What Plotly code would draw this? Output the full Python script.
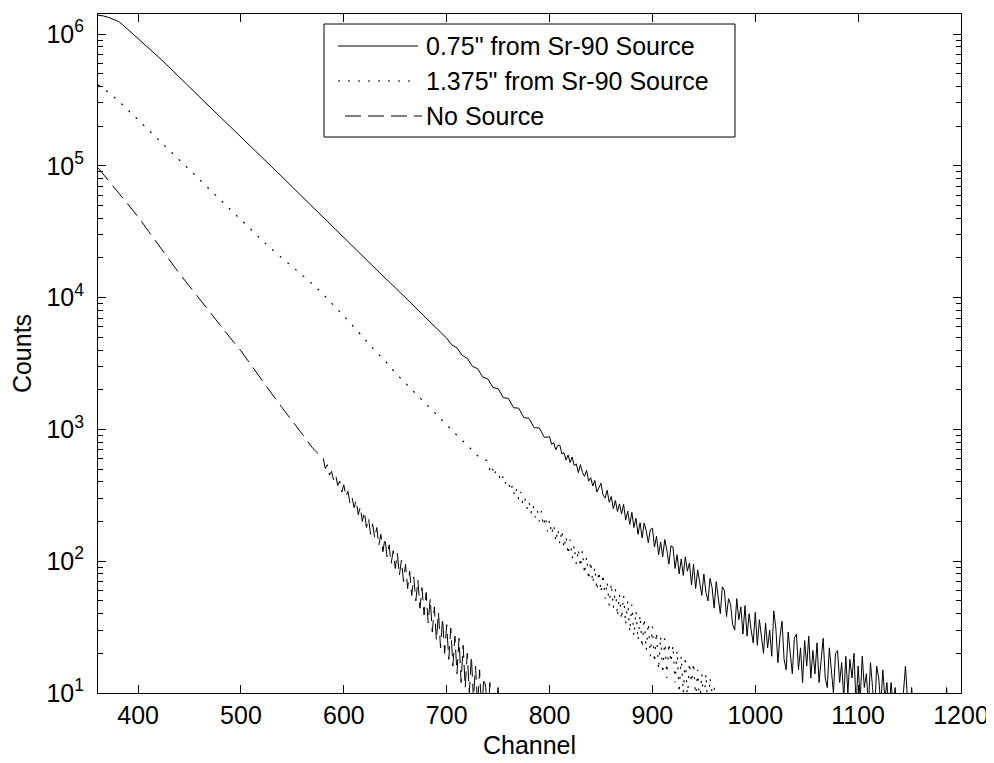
import plotly.graph_objects as go

# ---------------- data ----------------
# 0.75" from Sr-90 source (solid)
a_channels = ([361, 366, 371, 376, 381, 385, 390, 395] + list(range(400, 700, 10))
              + list(range(700, 800, 5)) + list(range(800, 1200, 2)))
a_counts = [
    1387000, 1374000, 1340000, 1290000, 1245000, 1175000, 1084000, 1007000,
    933000, 785000, 668000, 562000, 470000, 394000, 331000, 279000, 234000, 197000,
    166000, 140000, 117500, 98400, 82400, 69000, 57800, 48300, 40400, 33700,
    28200, 23700, 19900, 16700, 14100, 11900, 10000, 8410, 7080, 5890,
    4920, 4380, 4150, 3650, 3460, 3010, 2890, 2500, 2420, 2080,
    2040, 1740, 1720, 1460, 1450, 1230, 1215, 1030, 1025, 870,
    880, 770, 792, 700, 755, 760, 650, 668, 585, 640,
    560, 618, 530, 548, 470, 540, 470, 440, 489, 405,
    430, 372, 410, 335, 360, 390, 318, 301, 345, 280,
    310, 250, 289, 238, 272, 228, 270, 205, 240, 190,
    235, 180, 212, 160, 196, 150, 195, 170, 138, 174,
    178, 128, 155, 112, 140, 108, 146, 122, 95, 131,
    128, 88, 112, 80, 104, 78, 108, 84, 97, 66,
    95, 62, 86, 70, 55, 80, 58, 50, 74, 63,
    44, 70, 55, 40, 64, 60, 38, 52, 47, 33,
    30, 52, 36, 45, 28, 46, 27, 40, 30, 24,
    41, 23, 36, 28, 20, 34, 22, 30, 19, 42,
    31, 17, 27, 35, 18, 15, 29, 20, 14, 26,
    28, 15, 22, 12, 25, 16, 27, 13, 21, 14,
    24, 12, 19, 26, 13, 11, 22, 15, 10, 20,
    21, 12, 17, 9, 19, 10, 18, 13, 20, 8,
    16, 9, 19, 11, 14, 8, 17, 11, 7, 16,
    13, 8, 15, 9, 12, 7, 12, 8, 11, 6,
    9, 8, 10, 16, 9, 7, 11, 7, 6, 8,
    7, 6, 8, 5, 7, 6, 8, 5, 7, 6,
    7, 5, 6, 11, 6, 5, 6, 4, 7, 5,
]

# 1.375" from Sr-90 source (dotted)
b_channels = [361] + list(range(370, 740, 10)) + list(range(740, 982, 2))
b_counts = [
    412000, 367000, 316000, 266000, 224000, 188000, 158500, 131800, 110900,
    93300, 78200, 65600, 55000, 46200, 38900, 32700, 27500, 23300, 19950,
    17180, 14790, 12590, 10590, 8810, 7240, 5960, 4840, 3980, 3310,
    2690, 2240, 1862, 1549, 1288, 1072, 902, 759, 631,
    575, 490, 530, 445, 490, 470, 420, 455, 380, 405,
    412, 340, 378, 310, 352, 292, 335, 270, 300, 250,
    285, 232, 268, 215, 245, 200, 240, 185, 218, 168,
    205, 160, 190, 140, 175, 135, 172, 125, 155, 112,
    145, 105, 132, 95, 124, 90, 120, 80, 108, 72,
    100, 68, 90, 60, 84, 58, 80, 52, 70, 46,
    68, 44, 62, 38, 56, 36, 55, 33, 50, 29,
    47, 27, 42, 25, 39, 22, 37, 21, 34, 19,
    32, 17, 29, 15, 27, 14, 26, 13, 24, 17,
    23, 12, 21, 10, 19, 10, 19, 9, 17, 12,
    17, 9, 15, 8, 14, 8, 14, 7, 13, 10,
    11, 7, 6, 9, 5, 8, 6, 7, 5, 6,
    5,
]

# No source (dashed)
c_channels = [361] + list(range(370, 580, 10)) + list(range(580, 762, 2))
c_counts = [
    96600, 79400, 63800, 51300, 41100, 32000, 24800, 19500, 15300, 12160,
    9660, 7670, 6100, 4900, 3940, 3055, 2370, 1862, 1462, 1161, 912, 716,
    600, 505, 540, 450, 480, 415, 455, 375, 405, 335,
    380, 310, 340, 275, 305, 255, 290, 225, 258, 200,
    238, 180, 212, 160, 192, 150, 180, 132, 160, 118,
    150, 108, 133, 96, 120, 88, 115, 78, 102, 70,
    95, 62, 84, 55, 76, 50, 72, 44, 63, 39,
    58, 34, 52, 29, 45, 25, 41, 22, 37, 20,
    33, 18, 31, 16, 27, 14, 26, 12, 23, 11,
    20, 10, 19, 9, 16, 8, 15, 7, 13, 11,
    6, 12, 6, 9, 8, 11, 6, 7, 5, 8,
    6,
]

legend_labels = ['0.75" from Sr-90 Source', '1.375" from Sr-90 Source', 'No Source']

x_ticks = [400, 500, 600, 700, 800, 900, 1000, 1100, 1200]
y_decades = [1, 2, 3, 4, 5, 6]

# ---------------- figure ----------------
FONT = "Liberation Sans, Arial, Helvetica, sans-serif"
dash_dot = "2px,8px"
dash_dash = "16px,7px"

fig = go.Figure()
fig.add_trace(go.Scatter(x=a_channels, y=a_counts, mode="lines", name=legend_labels[0],
                         line=dict(color="black", width=1), showlegend=False))
fig.add_trace(go.Scatter(x=b_channels, y=b_counts, mode="lines", name=legend_labels[1],
                         line=dict(color="black", width=1.2, dash=dash_dot), showlegend=False))
fig.add_trace(go.Scatter(x=c_channels, y=c_counts, mode="lines", name=legend_labels[2],
                         line=dict(color="black", width=1, dash=dash_dash), showlegend=False))

minor_vals = [m * 10 ** d for d in range(1, 7) for m in range(2, 10)]

# page body has an 8px margin, so the figure is sized to sit inside the window
ML, MR, MT, MB = 90, 33, 6, 70
FW, FH = 986, 755

fig.update_layout(
    width=FW, height=FH,
    margin=dict(l=ML, r=MR, t=MT, b=MB),
    paper_bgcolor="white", plot_bgcolor="white",
    font=dict(family=FONT, size=25, color="black"),
    xaxis=dict(
        range=[361, 1200], tickvals=x_ticks, ticktext=[str(v) for v in x_ticks],
        ticks="inside", ticklen=8, tickcolor="black", mirror="ticks",
        showline=True, linecolor="black", linewidth=1, showgrid=False, zeroline=False,
        automargin=False,
        tickfont=dict(size=25), title=dict(text="Channel", font=dict(size=25), standoff=8),
    ),
    yaxis=dict(
        type="log", range=[1, 6.152],
        tickvals=[10 ** d for d in y_decades],
        ticktext=["10<sup>%d</sup>" % d for d in y_decades],
        ticks="inside", ticklen=8, tickcolor="black", mirror="ticks",
        minor=dict(tickvals=minor_vals, ticks="inside", ticklen=5, tickcolor="black"),
        showline=True, linecolor="black", linewidth=1, showgrid=False, zeroline=False,
        automargin=False, ticklabelstandoff=8,
        tickfont=dict(size=25), title=dict(text="Counts", font=dict(size=25), standoff=20),
    ),
)

# legend box drawn MATLAB-style (positions given in window pixels)
W, H = float(FW - ML - MR), float(FH - MT - MB)
L, T = 8.0 + ML, 8.0 + MT
def px(xp):
    return (xp - L) / W
def py(yp):
    return (T + H - yp) / H

fig.add_shape(type="rect", xref="paper", yref="paper", x0=px(324), x1=px(735), y0=py(137), y1=py(24),
              line=dict(color="black", width=1), fillcolor="white", layer="above")
rows = [(46, 338, 418, "solid", 1), (81, 338, 416, dash_dot, 1.2), (116, 345, 422, dash_dash, 1)]
for (yy, xa, xb, dsh, lw), lab in zip(rows, legend_labels):
    fig.add_shape(type="line", xref="paper", yref="paper", x0=px(xa), x1=px(xb), y0=py(yy), y1=py(yy),
                  line=dict(color="black", width=lw, dash=dsh), layer="above")
    fig.add_annotation(xref="paper", yref="paper", x=px(424), y=py(yy), text=lab, showarrow=False,
                       xanchor="left", yanchor="middle", font=dict(size=25, color="black"))

fig.write_html("out.html")
